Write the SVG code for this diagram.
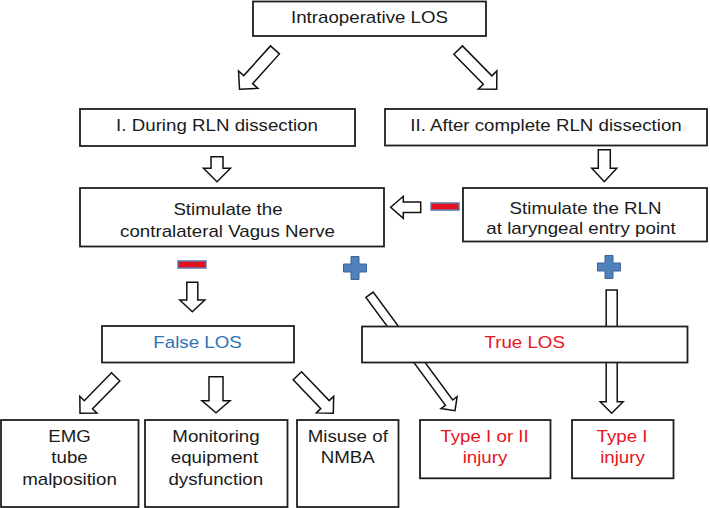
<svg xmlns="http://www.w3.org/2000/svg" xmlns:xlink="http://www.w3.org/1999/xlink" width="710" height="508" viewBox="0 0 710 508">
<style>
.box{fill:#fff;stroke:#1e1e1e;stroke-width:1.8}
.arr{fill:#fff;stroke:#111;stroke-width:1.5;stroke-linejoin:miter}
text{font-family:"Liberation Sans",Arial,sans-serif;font-size:16px;text-anchor:middle;fill:#1a1a1a}
.blue{fill:#2e74b5}
.red{fill:#e8141c}
.plus{fill:#4f81bd;stroke:#3b6398;stroke-width:1}
.minus{fill:#e3101e;stroke:#6078aa;stroke-width:1.5}
</style>
<defs>
<path id="plus" d="M-4,-11.5 H4 V-4 H11.5 V4 H4 V11.5 H-4 V4 H-11.5 V-4 H-4 Z"/>
<rect id="minus" x="0" y="0" width="28" height="7"/>
</defs>
<rect width="710" height="508" fill="#fff"/>

<g id="connectors">
<polygon class="arr" transform="translate(239.5,89.3) rotate(42)" points="-6,-53 6,-53 6,-13 13,-13 0,0 -13,-13 -6,-13"/>
<polygon class="arr" transform="translate(496.7,89.3) rotate(-44.5)" points="-6,-55 6,-55 6,-13 13,-13 0,0 -13,-13 -6,-13"/>
<polygon class="arr" transform="translate(217,181.7)" points="-6,-25 6,-25 6,-13.5 13.5,-13.5 0,0 -13.5,-13.5 -6,-13.5"/>
<polygon class="arr" transform="translate(604.3,181.7)" points="-6,-32 6,-32 6,-13.5 12.5,-13.5 0,0 -12.5,-13.5 -6,-13.5"/>
<polygon class="arr" transform="translate(390.7,207.3) rotate(90)" points="-5.3,-30 5.3,-30 5.3,-12.6 11,-12.6 0,0 -11,-12.6 -5.3,-12.6"/>
<polygon class="arr" transform="translate(192.3,311.7)" points="-5.5,-29.4 5.5,-29.4 5.5,-11.7 12.5,-11.7 0,0 -12.5,-11.7 -5.5,-11.7"/>
<polygon class="arr" transform="translate(455,410.7) rotate(-36.4)" points="-4.5,-144 4.5,-144 4.5,-10 10,-10 0,0 -10,-10 -4.5,-10"/>
<polygon class="arr" transform="translate(611.7,413.3)" points="-5.5,-123.3 5.5,-123.3 5.5,-11.6 11.5,-11.6 0,0 -11.5,-11.6 -5.5,-11.6"/>
<polygon class="arr" transform="translate(80,413.3) rotate(44.4)" points="-5.8,-51 5.8,-51 5.8,-12 12,-12 0,0 -12,-12 -5.8,-12"/>
<polygon class="arr" transform="translate(216,412.7)" points="-7,-36 7,-36 7,-12 14,-12 0,0 -14,-12 -7,-12"/>
<polygon class="arr" transform="translate(333.3,413.3) rotate(-43.7)" points="-5.8,-52 5.8,-52 5.8,-12 12,-12 0,0 -12,-12 -5.8,-12"/>
<use xlink:href="#minus" class="minus" x="431" y="203"/>
<use xlink:href="#minus" class="minus" x="178" y="261"/>
<use xlink:href="#plus" class="plus" x="355" y="268"/>
<use xlink:href="#plus" class="plus" x="609" y="267"/>
</g>

<g id="n-intraop">
<rect class="box" x="253" y="1.5" width="233" height="34.5"/>
<text transform="translate(369.5,23) scale(1.17,1)">Intraoperative LOS</text>
</g>
<g id="n-during">
<rect class="box" x="80" y="109" width="275" height="37"/>
<text transform="translate(217,131) scale(1.17,1)">I. During RLN dissection</text>
</g>
<g id="n-after">
<rect class="box" x="385" y="109" width="322" height="36.5"/>
<text transform="translate(546,131) scale(1.17,1)">II. After complete RLN dissection</text>
</g>
<g id="n-vagus">
<rect class="box" x="80" y="188" width="304" height="58.5"/>
<text transform="translate(228,215) scale(1.17,1)">Stimulate the</text>
<text transform="translate(227.5,236.5) scale(1.17,1)">contralateral Vagus Nerve</text>
</g>
<g id="n-rln">
<rect class="box" x="463" y="188" width="244" height="53.5"/>
<text transform="translate(585.5,214) scale(1.17,1)">Stimulate the RLN</text>
<text transform="translate(581,233.5) scale(1.17,1)">at laryngeal entry point</text>
</g>
<g id="n-false">
<rect class="box" x="102" y="326" width="192" height="36.5"/>
<text class="blue" transform="translate(197.5,348) scale(1.17,1)">False LOS</text>
</g>
<g id="n-true">
<rect class="box" x="362" y="326.5" width="325.5" height="36"/>
<text class="red" transform="translate(524.7,347.7) scale(1.17,1)">True LOS</text>
</g>
<g id="n-emg">
<rect class="box" x="1" y="420" width="137.5" height="87"/>
<text transform="translate(69.5,441.7) scale(1.17,1)">EMG</text>
<text transform="translate(69.5,463.3) scale(1.17,1)">tube</text>
<text transform="translate(69.5,485) scale(1.17,1)">malposition</text>
</g>
<g id="n-monitor">
<rect class="box" x="145" y="420" width="142.5" height="87"/>
<text transform="translate(216,441.7) scale(1.17,1)">Monitoring</text>
<text transform="translate(214.5,463.3) scale(1.17,1)">equipment</text>
<text transform="translate(215.8,485) scale(1.17,1)">dysfunction</text>
</g>
<g id="n-nmba">
<rect class="box" x="297" y="420" width="101.5" height="87"/>
<text transform="translate(347.8,441.7) scale(1.17,1)">Misuse of</text>
<text transform="translate(347.8,463.3) scale(1.17,1)">NMBA</text>
</g>
<g id="n-type12">
<rect class="box" x="420" y="420" width="130.5" height="58.3"/>
<text class="red" transform="translate(484.5,441.7) scale(1.17,1)">Type I or II</text>
<text class="red" transform="translate(485,463.3) scale(1.17,1)">injury</text>
</g>
<g id="n-type1">
<rect class="box" x="572" y="420" width="101.5" height="58.3"/>
<text class="red" transform="translate(622,441.7) scale(1.17,1)">Type I</text>
<text class="red" transform="translate(622.5,463.3) scale(1.17,1)">injury</text>
</g>
</svg>
